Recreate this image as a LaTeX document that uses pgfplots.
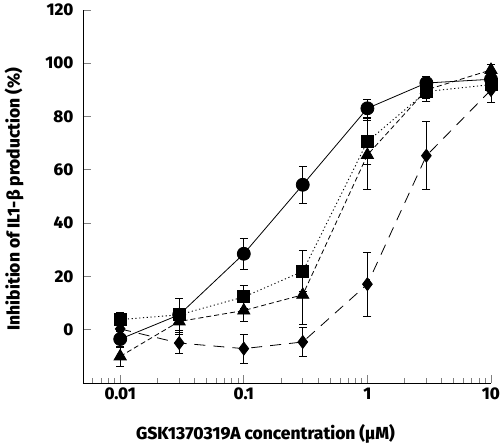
\documentclass[border=0pt]{standalone}
\usepackage{fontspec}
\setmainfont{Fira Sans}[BoldFont={Fira Sans ExtraBold}]
\usepackage{pgfplots}
\pgfplotsset{compat=1.18}
\usetikzlibrary{calc}
\begin{document}
\begin{tikzpicture}[x=1bp,y=1bp]
\begin{axis}[
  scale only axis,
  width=408bp, height=373bp,
  xmode=log,
  xmin=0.005, xmax=10,
  ymin=-20, ymax=120,
  axis lines=left,
  axis line style={-, line width=0.9pt, black},
  xtick={0.01,0.1,1,10},
  xticklabels={0.01,0.1,1,10},
  minor xtick={0.006,0.007,0.008,0.009,0.02,0.03,0.04,0.05,0.06,0.07,0.08,0.09,0.2,0.3,0.4,0.5,0.6,0.7,0.8,0.9,2,3,4,5,6,7,8,9},
  ytick={0,20,40,60,80,100,120},
  tick align=inside,
  major tick length=8bp,
  minor tick length=5bp,
  tick style={gray, line width=0.8pt},
  /pgf/number format/assume math mode=true,
  ticklabel style={font=\fontsize{17}{20}\selectfont\bfseries},
  yticklabel style={xshift=-6bp},
  xticklabel style={yshift=-1bp},
  label style={font=\fontsize{17.5}{20}\selectfont\bfseries},
  xlabel={GSK1370319A concentration (μM)},
  ylabel={Inhibition of IL1-β production (\%)},
  xlabel style={at={(axis description cs:0.447,-0.137)}, anchor=center},
  ylabel style={at={(axis description cs:-0.169,0.493)}, anchor=center},
  error bars/error bar style={black, line width=0.8pt, solid},
  error bars/error mark options={rotate=90, mark size=4bp, black, line width=0.8pt, solid},
  clip=false,
]
% diamond, long dashed
\addplot[black, line width=0.8pt, dash pattern=on 11bp off 8bp, mark=diamond*, mark size=6.5bp, mark options={solid},
  error bars/.cd, y dir=both, y explicit]
  coordinates {
  (0.01,0.3) +- (0,2)
  (0.03,-5) +- (0,4)
  (0.1,-7.1) +- (0,5.4)
  (0.3,-4.6) +- (0,5.5)
  (1,17.1) +- (0,12)
  (3,65.3) +- (0,12.8)
  (10,90) +- (0,4.5)
  };
% triangle, short dashed
\addplot[black, line width=0.8pt, dash pattern=on 5bp off 3bp, mark=triangle*, mark size=7bp, mark options={solid},
  error bars/.cd, y dir=both, y explicit]
  coordinates {
  (0.01,-10) +- (0,3.8)
  (0.03,3.1) +- (0,5)
  (0.1,7.2) +- (0,4.1)
  (0.3,13.1) +- (0,11)
  (1,65.6) +- (0,13)
  (3,90) +- (0,3)
  (10,97.5) +- (0,2)
  };
% square, dotted
\addplot[black, line width=0.9pt, dash pattern=on 1.2bp off 2.6bp, mark=square*, mark size=6bp, mark options={solid},
  error bars/.cd, y dir=both, y explicit]
  coordinates {
  (0.01,3.8) +- (0,2.8)
  (0.03,5.6) +- (0,6)
  (0.1,12.3) +- (0,4.3)
  (0.3,21.9) +- (0,7.7)
  (1,70.6) +- (0,8.6)
  (3,89.4) +- (0,3.8)
  (10,92) +- (0,2)
  };
% circle, solid
\addplot[black, line width=0.8pt, solid, mark=*, mark size=6.5bp,
  error bars/.cd, y dir=both, y explicit]
  coordinates {
  (0.01,-3.5) +- (0,3)
  (0.03,5.6) +- (0,6)
  (0.1,28.5) +- (0,5.8)
  (0.3,54.4) +- (0,7)
  (1,83.1) +- (0,3.5)
  (3,92.6) +- (0,2.6)
  (10,94) +- (0,2)
  };
\end{axis}
\pgfresetboundingbox
\path (current axis.south west) ++(-83bp,-62bp) rectangle ($(current axis.north east)+(9bp,10bp)$);
\end{tikzpicture}
\end{document}
